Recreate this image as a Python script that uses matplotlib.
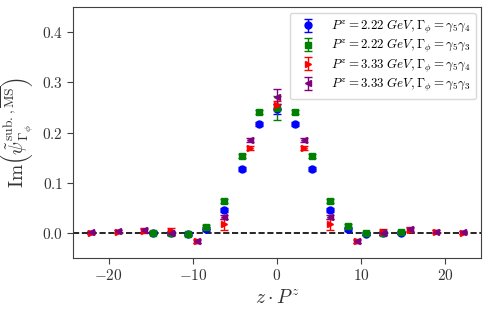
import numpy as np
import matplotlib
matplotlib.use("Agg")
import matplotlib.pyplot as plt

plt.rcParams["font.family"] = "serif"
plt.rcParams["font.serif"] = ["cmr10", "DejaVu Serif"]
plt.rcParams["mathtext.fontset"] = "cm"
plt.rcParams["axes.formatter.use_mathtext"] = True

# z index ranges and steps in z*Pz
n = np.arange(-7, 8)
step_222 = 2.105
step_333 = 3.158

# Pz = 2.22 GeV
blue_y = [0.000, -0.001, -0.002, 0.008, 0.045, 0.127, 0.217, 0.247,
          0.217, 0.127, 0.045, 0.008, -0.002, -0.001, 0.000]
blue_err = [0.003, 0.003, 0.003, 0.004, 0.004, 0.004, 0.004, 0.010,
            0.004, 0.004, 0.004, 0.004, 0.003, 0.003, 0.003]
green_y = [0.000, -0.001, -0.003, 0.012, 0.064, 0.154, 0.241, 0.249,
           0.241, 0.154, 0.064, 0.013, -0.001, -0.001, 0.001]
green_err = [0.003, 0.003, 0.003, 0.004, 0.004, 0.004, 0.004, 0.024,
             0.004, 0.004, 0.004, 0.004, 0.003, 0.003, 0.003]

# Pz = 3.33 GeV
red_y = [0.000, 0.002, 0.004, 0.003, -0.017, 0.017, 0.170, 0.255,
         0.170, 0.017, -0.017, 0.002, 0.005, 0.002, 0.000]
red_err = [0.003, 0.003, 0.004, 0.006, 0.004, 0.011, 0.004, 0.008,
           0.004, 0.011, 0.004, 0.006, 0.004, 0.003, 0.003]
purple_y = [0.001, 0.003, 0.006, 0.000, -0.017, 0.031, 0.185, 0.272,
            0.185, 0.031, -0.017, 0.000, 0.007, 0.002, 0.001]
purple_err = [0.003, 0.003, 0.004, 0.004, 0.003, 0.004, 0.004, 0.015,
              0.004, 0.004, 0.003, 0.004, 0.004, 0.003, 0.003]

labels = [r"$P^z = 2.22\;GeV, \Gamma_\phi = \gamma_5\gamma_4$",
          r"$P^z = 2.22\;GeV, \Gamma_\phi = \gamma_5\gamma_3$",
          r"$P^z = 3.33\;GeV, \Gamma_\phi = \gamma_5\gamma_4$",
          r"$P^z = 3.33\;GeV, \Gamma_\phi = \gamma_5\gamma_3$"]

fig = plt.figure(figsize=(4.89, 3.10), dpi=100)
ax = fig.add_axes([0.150, 0.169, 0.833, 0.807])

x1 = n * step_222
x2 = n * step_333
kw = dict(linestyle="none", markersize=5, capsize=3, elinewidth=1)
ax.errorbar(x1, blue_y, yerr=blue_err, fmt="o", color="blue", label=labels[0], **kw)
ax.errorbar(x1, green_y, yerr=green_err, fmt="s", color="green", label=labels[1], **kw)
ax.errorbar(x2, red_y, yerr=red_err, fmt=">", color="red", label=labels[2], **kw)
ax.errorbar(x2, purple_y, yerr=purple_err, fmt="<", color="purple", label=labels[3], **kw)

ax.axhline(0, color="black", linestyle="--", linewidth=1.2, zorder=0)

ax.set_xlim(-24.2, 24.2)
ax.set_ylim(-0.05, 0.45)
ax.set_yticks([0.0, 0.1, 0.2, 0.3, 0.4])
ax.set_xticks([-20, -10, 0, 10, 20])

for s in ax.spines.values():
    s.set_color("0.25")
ax.tick_params(colors="0.25", labelsize=11, direction="out", length=4)
for t in ax.get_xticklabels() + ax.get_yticklabels():
    t.set_color("0.2")

ax.set_xlabel(r"$z \cdot P^z$", fontsize=14, color="0.2")
ax.set_ylabel(r"$\mathrm{Im}\left(\tilde{\psi}^{\mathrm{sub.,}\overline{\mathrm{MS}}}_{\Gamma_\phi}\right)$",
              fontsize=14, color="0.2")

ax.legend(loc="upper right", fontsize=9.3, framealpha=1, edgecolor="0.85",
          labelspacing=0.1, borderaxespad=0.4, handletextpad=0.8, borderpad=0.4)

fig.savefig("out.png", dpi=100)
